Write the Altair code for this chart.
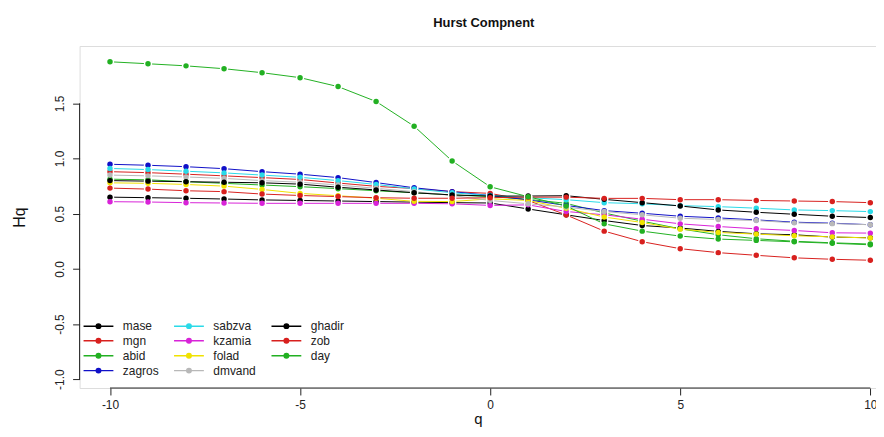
import altair as alt
import pandas as pd

q = list(range(-10, 11))

series_names = ["mase", "mgn", "abid", "zagros", "sabzva", "kzamia",
                "folad", "dmvand", "ghadir", "zob", "day"]

mase   = [0.650, 0.645, 0.640, 0.633, 0.625, 0.620, 0.615, 0.610, 0.605, 0.600, 0.597,
          0.543, 0.490, 0.438, 0.393, 0.370, 0.340, 0.318, 0.309, 0.288, 0.282]
mgn    = [0.881, 0.872, 0.858, 0.843, 0.827, 0.810, 0.778, 0.748, 0.728, 0.700, 0.684,
          0.620, 0.489, 0.342, 0.246, 0.183, 0.147, 0.123, 0.100, 0.087, 0.078]
abid   = [0.813, 0.807, 0.790, 0.775, 0.760, 0.745, 0.727, 0.708, 0.690, 0.670, 0.655,
          0.630, 0.594, 0.507, 0.432, 0.363, 0.309, 0.273, 0.250, 0.236, 0.225]
zagros = [0.948, 0.939, 0.926, 0.908, 0.881, 0.858, 0.827, 0.782, 0.735, 0.700, 0.665,
          0.625, 0.575, 0.528, 0.504, 0.477, 0.462, 0.444, 0.423, 0.414, 0.400]
sabzva = [0.910, 0.900, 0.885, 0.870, 0.850, 0.830, 0.800, 0.765, 0.725, 0.690, 0.665,
          0.645, 0.627, 0.600, 0.590, 0.573, 0.564, 0.550, 0.534, 0.528, 0.519]
kzamia = [0.609, 0.606, 0.600, 0.597, 0.594, 0.594, 0.594, 0.594, 0.594, 0.590, 0.575,
          0.580, 0.520, 0.490, 0.450, 0.408, 0.384, 0.363, 0.348, 0.327, 0.324]
folad  = [0.780, 0.775, 0.765, 0.750, 0.720, 0.684, 0.663, 0.640, 0.612, 0.610, 0.635,
          0.620, 0.549, 0.470, 0.420, 0.360, 0.330, 0.315, 0.300, 0.290, 0.280]
dmvand = [0.850, 0.843, 0.833, 0.820, 0.800, 0.785, 0.760, 0.730, 0.700, 0.665, 0.620,
          0.590, 0.560, 0.520, 0.490, 0.459, 0.447, 0.438, 0.417, 0.410, 0.400]
ghadir = [0.800, 0.795, 0.790, 0.785, 0.780, 0.768, 0.740, 0.715, 0.690, 0.670, 0.660,
          0.660, 0.663, 0.630, 0.600, 0.570, 0.534, 0.513, 0.495, 0.477, 0.465]
zob    = [0.732, 0.723, 0.708, 0.700, 0.678, 0.665, 0.655, 0.645, 0.640, 0.640, 0.645,
          0.650, 0.650, 0.639, 0.639, 0.627, 0.627, 0.620, 0.615, 0.610, 0.600]
day    = [1.877, 1.859, 1.840, 1.814, 1.778, 1.733, 1.652, 1.517, 1.293, 0.978, 0.744,
          0.654, 0.570, 0.408, 0.342, 0.297, 0.270, 0.258, 0.245, 0.232, 0.218]

series_values = [mase, mgn, abid, zagros, sabzva, kzamia, folad, dmvand, ghadir, zob, day]

series_colors = ["#000000", "#D8201E", "#22B022", "#1010C8", "#2ADAE8", "#D823D8",
                 "#F0E200", "#B8B8B8", "#000000", "#D8201E", "#22B022"]

x_ticks = [-10, -5, 0, 5, 10]
y_ticks = [-1.0, -0.5, 0.0, 0.5, 1.0, 1.5]

rows = []
for idx, (name, vals) in enumerate(zip(series_names, series_values)):
    for qi, v in zip(q, vals):
        rows.append({"q": qi, "h": v, "series": name, "k": idx})
df = pd.DataFrame(rows)

FONT = "Liberation Sans"
xscale = alt.Scale(domain=[-10.8, 10.15], nice=False, zero=False)
yscale = alt.Scale(domain=[-1.08, 2.02], nice=False, zero=False)
cscale = alt.Scale(domain=series_names, range=series_colors)

xaxis = alt.Axis(values=x_ticks, domain=False, grid=False, tickSize=7, tickColor="#222",
                 labelFont=FONT, labelFontSize=12, labelColor="#222", labelPadding=5,
                 labelExpr="(datum.value < 0 ? '-' : '') + format(abs(datum.value), 'd')",
                 title="q", titleFont=FONT, titleFontSize=15, titleFontWeight="normal",
                 titleColor="#111", titlePadding=1)
yaxis = alt.Axis(values=y_ticks, domain=False, grid=False, tickSize=7, tickColor="#222",
                 labelFont=FONT, labelFontSize=12, labelColor="#222", labelPadding=6,
                 labelAngle=270, labelAlign="center", labelBaseline="bottom",
                 labelExpr="(datum.value < 0 ? '-' : '') + format(abs(datum.value), '.1f')",
                 title="Hq", titleFont=FONT, titleFontSize=16, titleFontWeight="normal",
                 titleColor="#111", titlePadding=26)

sym = "M-2,0H2M-0.3,0a0.3,0.3 0 1,0 0.6,0a0.3,0.3 0 1,0 -0.6,0"
legend = alt.Legend(title=None, orient="none", legendX=3, legendY=273, columns=3,
                    symbolType=sym, symbolSize=225, symbolOffset=7.5, symbolStrokeWidth=1.5,
                    labelOffset=16, labelFont=FONT, labelFontSize=12, labelColor="#222",
                    columnPadding=12, rowPadding=0, padding=0)

base = alt.Chart(df)

lines = base.mark_line(strokeWidth=1).encode(
    x=alt.X("q:Q", scale=xscale, axis=xaxis),
    y=alt.Y("h:Q", scale=yscale, axis=yaxis),
    stroke=alt.Stroke("series:N", scale=cscale, legend=legend),
    order=alt.Order("q:Q"),
)

halos = base.mark_point(filled=True, size=70, color="white", opacity=1).encode(
    x=alt.X("q:Q", scale=xscale),
    y=alt.Y("h:Q", scale=yscale),
)

points = base.mark_point(filled=True, size=30, opacity=1).encode(
    x=alt.X("q:Q", scale=xscale),
    y=alt.Y("h:Q", scale=yscale),
    fill=alt.Fill("series:N", scale=cscale, legend=legend),
    order=alt.Order("k:Q"),
)

axis_src = alt.Data(values=[{"a": 1}])
y_line = alt.Chart(axis_src).mark_rule(color="#222", strokeWidth=1).encode(
    x=alt.value(0),
    y=alt.datum(y_ticks[0], scale=yscale),
    y2=alt.datum(y_ticks[-1]),
)
x_line = alt.Chart(axis_src).mark_rule(color="#222", strokeWidth=1).encode(
    y=alt.value(344),
    x=alt.datum(x_ticks[0], scale=xscale),
    x2=alt.datum(x_ticks[-1]),
)

chart = alt.layer(lines, halos, points, y_line, x_line).properties(
    width=801, height=344,
    title=alt.Title("Hurst Compnent", font=FONT, fontSize=13, fontWeight="bold",
                    color="#111", anchor="middle", offset=16, dx=6),
    autosize=alt.AutoSizeParams(type="none"),
    padding={"left": 72, "top": 37, "right": 0, "bottom": 40},
).configure_view(stroke=None).configure(background="white")

chart.save("out.html", embed_options={"renderer": "svg", "actions": False})
